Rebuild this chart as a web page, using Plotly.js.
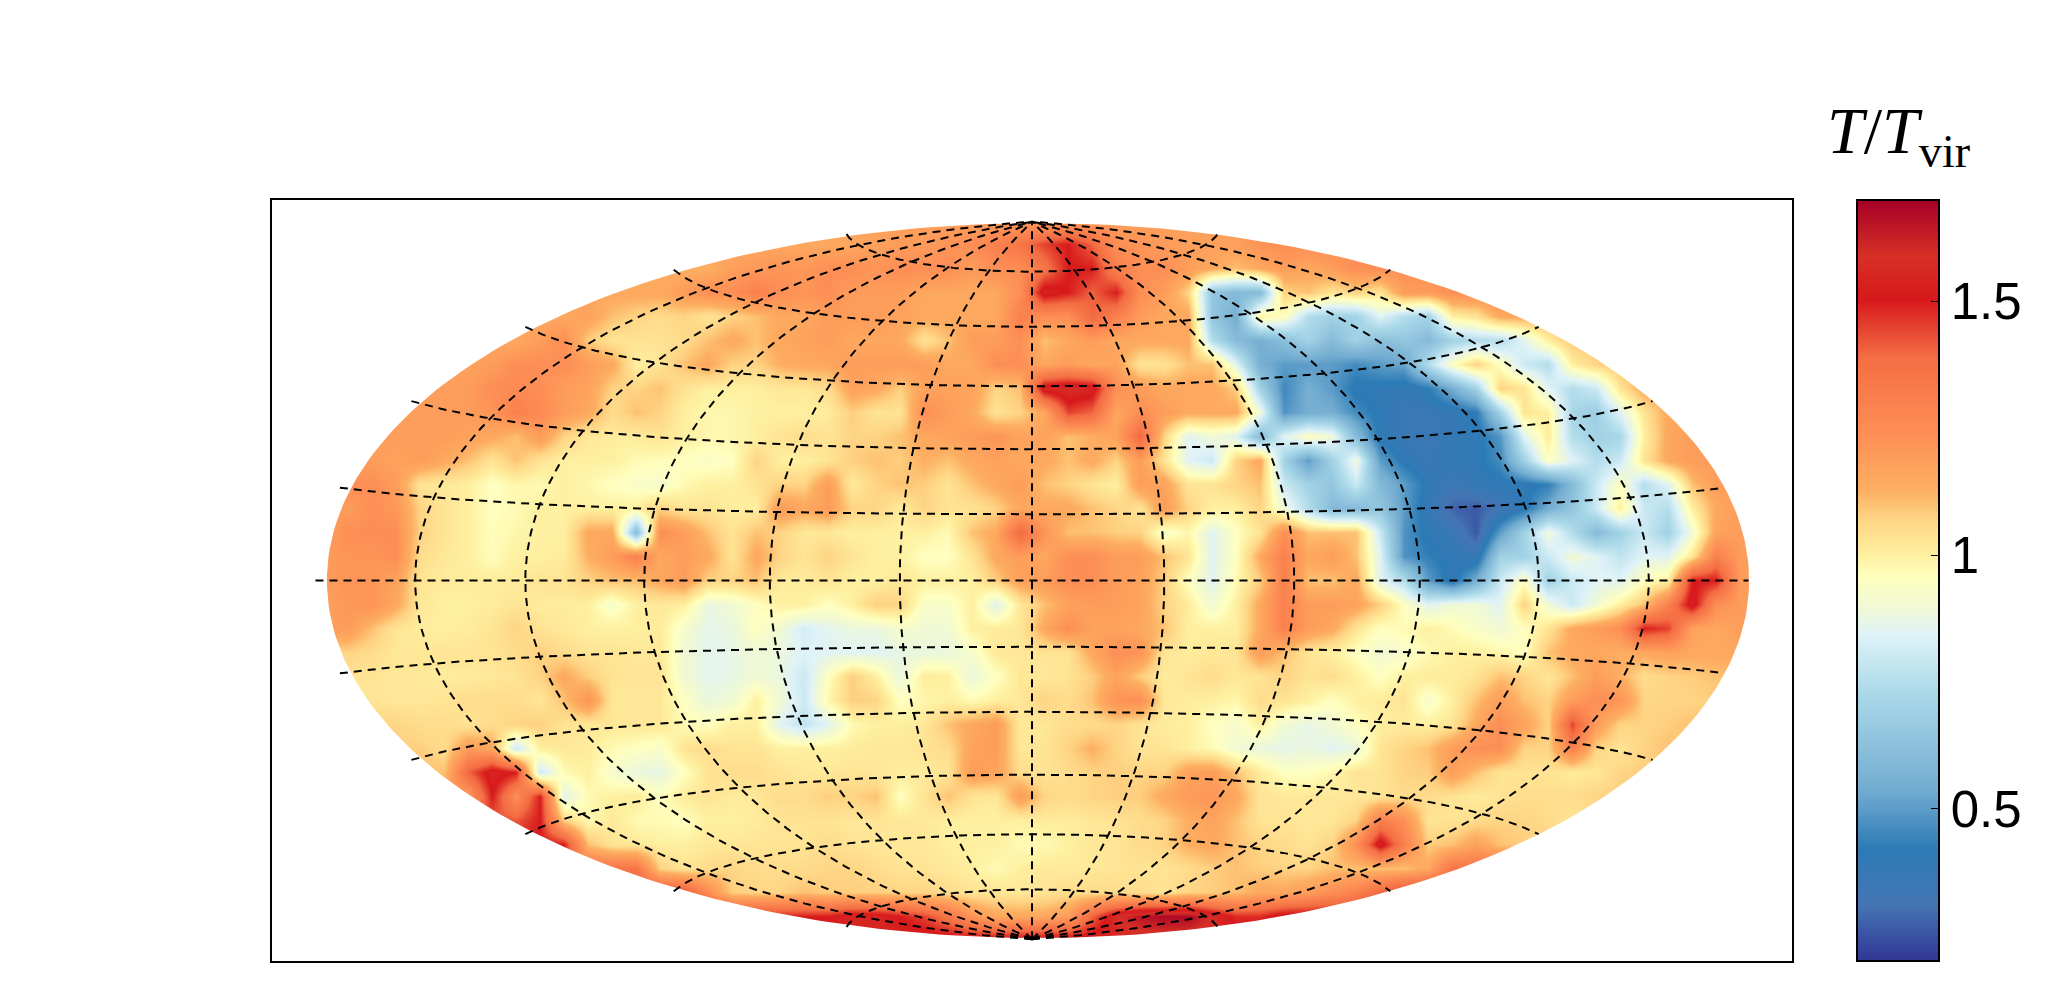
<!DOCTYPE html>
<html><head><meta charset="utf-8">
<script src="https://cdn.plot.ly/plotly-3.0.1.min.js"></script>
<style>html,body{margin:0;padding:0;background:#fff}</style></head>
<body><div id="chart" style="width:2046px;height:996px"></div>
<script>
// T/Tvir x 100, top row first; rowStart = first column inside the map
const rowStart=[29,20,15,13,10,8,6,5,4,3,2,2,1,0,0,0,0,0,1,2,2,3,4,5,6,8,10,13,15,20,29];
const tempRows=[
[118],
[115,115,115,117,119,119,122,124,130,135,145,150,140,124,122,119,118,118,118,122,124],
[113,113,118,120,122,121,124,124,122,124,124,124,119,124,124,135,150,150,130,124,124,119,115,110,115,119,115,119,124,124],
[115,115,119,124,124,130,124,122,124,119,119,119,115,115,115,115,124,155,150,140,150,124,119,107,65,60,60,107,110,103,107,103,119,119,124],
[115,117,110,107,105,107,103,107,110,115,115,119,119,119,117,115,115,115,115,130,124,124,140,130,119,115,115,65,55,100,95,75,70,70,85,75,70,100,103,115],
[115,119,124,108,103,103,103,105,110,115,110,115,117,119,115,115,115,103,110,119,119,124,110,115,119,115,115,115,115,75,60,55,62,70,60,70,62,65,60,70,75,75,85,100,110],
[117,119,124,124,124,119,115,100,103,110,115,107,107,113,115,115,119,119,119,119,115,115,124,124,115,119,115,117,103,103,110,110,85,55,50,50,50,46,50,52,75,95,107,95,80,75,100,107,110],
[119,119,124,126,124,119,117,107,107,110,103,100,100,100,102,102,105,117,115,108,117,117,117,107,110,155,158,155,124,119,115,115,115,108,70,45,55,50,40,40,38,42,55,70,107,103,85,75,80,103,115],
[119,119,119,122,130,126,119,115,105,110,107,100,98,98,100,100,100,101,108,103,103,124,119,115,103,107,115,145,140,115,124,119,115,115,115,90,48,55,55,46,40,36,36,38,42,70,103,100,72,68,85,103,115],
[119,119,119,117,115,110,119,107,102,101,101,103,100,98,98,100,103,105,103,107,107,110,115,117,119,122,117,117,110,113,117,140,107,85,90,85,60,85,95,90,60,40,36,36,38,40,48,85,101,75,70,72,100,115,119],
[119,117,119,115,110,103,110,103,100,100,100,97,96,95,93,95,107,100,100,103,108,110,108,113,110,115,117,115,115,110,115,107,119,103,85,80,107,115,70,50,70,90,50,40,36,40,40,46,70,95,85,75,80,103,115,119],
[124,119,103,102,100,95,98,97,100,98,95,93,92,97,100,100,103,107,107,119,101,107,110,108,103,110,115,119,110,107,103,100,119,117,103,103,107,110,80,70,65,80,60,50,40,34,38,40,40,43,60,80,95,75,85,110,119],
[119,124,121,107,103,100,95,97,100,100,100,100,100,107,103,103,101,100,119,115,119,107,107,101,107,103,103,107,115,115,115,110,107,103,119,107,100,100,107,90,75,60,60,65,50,38,28,26,33,40,55,65,80,100,80,75,100,115,119],
[117,124,124,124,107,103,100,96,98,100,100,115,115,60,124,119,110,103,110,107,102,102,100,100,100,100,97,110,115,140,122,110,110,108,107,92,98,85,95,103,124,110,110,110,80,48,40,36,26,50,70,90,75,60,70,80,70,90,117,119],
[119,122,122,124,105,102,100,96,100,100,101,113,119,130,115,119,115,103,115,107,103,107,103,100,100,95,95,103,115,119,115,124,124,119,119,110,103,85,95,115,130,115,119,110,85,48,43,40,36,70,70,80,90,85,78,85,85,103,130,119],
[119,122,121,117,103,101,101,101,101,103,103,107,110,110,115,119,107,107,110,101,101,103,100,100,102,100,100,100,108,117,119,124,124,119,117,108,95,85,97,108,130,110,110,115,85,75,50,38,55,80,95,70,80,85,85,95,100,150,150,119,119],
[117,121,122,115,102,100,100,101,103,101,101,100,92,100,102,100,88,90,95,100,100,95,100,108,107,93,93,100,85,102,110,117,119,119,117,107,101,90,100,115,130,119,119,117,108,95,85,90,90,85,107,90,80,90,100,110,130,155,124,119],
[119,119,110,103,101,100,101,103,107,103,102,100,100,100,101,92,86,88,95,90,82,86,88,88,92,90,90,100,101,102,115,124,117,117,115,110,100,100,100,115,130,119,115,103,95,97,100,97,93,90,95,103,115,119,124,150,145,117,115,119],
[107,105,102,102,103,103,103,105,108,105,103,103,102,102,90,86,87,90,88,84,85,85,85,87,88,88,92,102,102,103,103,115,124,122,103,101,102,103,119,110,103,100,95,90,92,97,100,100,98,95,110,115,115,113,115,117,115,115,115],
[103,102,102,101,101,102,103,107,115,108,103,103,103,90,86,87,90,88,80,95,108,100,88,101,100,88,95,102,102,103,108,117,108,101,103,105,102,103,107,103,105,100,95,100,101,101,103,110,107,102,110,119,113,105,107,108,110],
[103,102,102,103,105,105,105,102,110,122,102,102,102,95,88,90,100,90,80,98,108,107,95,98,100,97,100,102,107,105,110,122,124,102,101,100,98,105,103,100,95,100,101,103,92,100,110,119,110,107,119,124,122,107,107,107,108],
[107,105,105,103,105,107,108,103,102,102,102,102,97,95,100,100,85,78,85,97,100,100,102,110,115,119,102,102,105,105,107,103,101,100,95,92,100,90,87,90,95,100,101,100,103,115,124,117,107,145,119,107,107,108,110],
[108,105,119,115,80,100,102,101,97,95,93,103,105,103,103,100,100,100,101,102,102,103,105,117,119,102,103,107,113,107,103,103,100,97,90,88,86,88,85,88,103,107,110,119,124,124,107,107,130,107,103,107,110],
[110,140,155,150,80,97,100,92,88,87,95,103,105,105,103,102,102,103,102,101,101,103,119,117,105,103,105,107,108,107,107,117,119,110,101,95,95,98,103,103,107,108,119,110,103,103,103,101,102,107,108],
[119,150,124,150,85,97,100,101,95,101,103,101,102,105,105,108,107,110,95,103,110,103,102,119,107,105,107,108,108,115,119,121,115,103,102,102,102,102,103,105,105,103,101,103,105,105,105,107,108],
[142,150,107,97,102,97,97,95,100,100,101,103,103,103,102,103,102,102,100,100,100,100,101,101,102,103,105,107,113,117,110,103,103,102,102,107,130,124,103,103,105,107,107,105,103],
[150,110,103,102,100,100,102,102,103,103,103,105,103,102,102,102,100,100,100,97,97,100,102,103,105,107,113,115,110,107,105,103,107,124,155,130,108,110,117,110,108],
[135,107,103,105,107,105,105,105,107,107,105,103,103,102,100,97,100,102,101,102,103,103,103,105,108,110,108,107,107,110,110,110,110,115,135],
[145,125,108,107,107,110,108,108,108,107,107,105,103,103,102,103,105,105,105,105,103,107,108,110,115,115,119,124,130,140,150],
[150,150,155,155,150,145,135,122,115,115,115,119,140,158,165,168,168,158,148,148,155],
[155]
];
const tickVals=[0.5,1,1.5];
const latLines=[-75,-60,-45,-30,-15,0,15,30,45,60,75];
const lonLines=[-150,-120,-90,-60,-30,0,30,60,90,120,150];
const colorStops=[[0.2,'#313695'],[0.31,'#4575b4'],[0.42,'#2c7bb6'],[0.54,'#74add1'],[0.73,'#abd9e9'],[0.845,'#e0f3f8'],[0.89,'#eef8d8'],[0.955,'#ffffbf'],[1,'#fef0a0'],[1.07,'#fed585'],[1.13,'#fdae61'],[1.245,'#fd8d55'],[1.39,'#f46d43'],[1.503,'#d7191c'],[1.59,'#d73027'],[1.7,'#a50026']];

const zMin=0.2, zMax=1.7, nCols=61;
const z=tempRows.map((r,j)=>{
  const out=[];
  for(let i=0;i<nCols;i++){
    const k=Math.min(Math.max(i-rowStart[j],0),r.length-1);
    out.push(r[k]/100);
  }
  return out;
}).reverse();

const rad=Math.PI/180;
function hammer(lat,lon){
  const p=lat*rad,l=lon*rad,d=Math.sqrt(1+Math.cos(p)*Math.cos(l/2));
  return [2*Math.SQRT2*Math.cos(p)*Math.sin(l/2)/d, Math.SQRT2*Math.sin(p)/d];
}
const gx=[],gy=[];
latLines.forEach(lat=>{for(let lon=-180;lon<=180;lon+=2){const q=hammer(lat,lon);gx.push(q[0]);gy.push(q[1]);}gx.push(null);gy.push(null);});
lonLines.forEach(lon=>{for(let lat=-90;lat<=90;lat+=1){const q=hammer(lat,lon);gx.push(q[0]);gy.push(q[1]);}gx.push(null);gy.push(null);});

// white surround: map disc is slightly offset from the graticule
const ex=0.0237,ea=2.807,eb=1.409;
const mx=[-3,3,3,-3,-3],my=[-1.5,-1.5,1.5,1.5,-1.5];
for(let a=180;a>=-180;a-=1){mx.push(ex+ea*Math.cos(a*rad));my.push(eb*Math.sin(a*rad));}
mx.push(-3);my.push(-1.5);

const traces=[
 {type:'heatmap',z:z,x0:-2.795,dx:0.09475,y0:-1.418,dy:0.09461,zmin:zMin,zmax:zMax,zsmooth:'best',
  colorscale:colorStops.map(s=>[(s[0]-zMin)/(zMax-zMin),s[1]]),
  colorbar:{xref:'container',x:1857/2046,xanchor:'left',yref:'paper',y:0,yanchor:'bottom',len:1,lenmode:'fraction',
    thickness:82,thicknessmode:'pixels',xpad:0,ypad:0,outlinecolor:'#000',outlinewidth:2,
    tickmode:'array',tickvals:tickVals,ticktext:tickVals.map(String),ticks:'inside',ticklen:9,tickwidth:1.2,tickcolor:'#000',
    tickfont:{family:'Liberation Sans',size:51,color:'#000'}}},
 {type:'scatter',mode:'lines',x:mx,y:my,fill:'toself',fillcolor:'#fff',line:{width:0,color:'#fff'},hoverinfo:'skip',showlegend:false},
 {type:'scatter',mode:'lines',x:gx,y:gy,line:{color:'#000',width:2,dash:'8px,6px'},cliponaxis:false,hoverinfo:'skip',showlegend:false,connectgaps:false}
];
const leftTicks=tickVals.map(v=>({type:'line',xref:'paper',yref:'paper',x0:(1857-272)/1520,x1:(1866-272)/1520,y0:(v-zMin)/(zMax-zMin),y1:(v-zMin)/(zMax-zMin),line:{color:'#000',width:1.2}}));
const layout={
 width:2046,height:996,margin:{l:272,r:254,t:200,b:35,pad:0},paper_bgcolor:'#fff',plot_bgcolor:'#fff',showlegend:false,
 xaxis:{range:[-3,3],showgrid:false,zeroline:false,showticklabels:false,ticks:'',showline:true,mirror:true,linecolor:'#000',linewidth:2},
 yaxis:{range:[-1.5,1.5],showgrid:false,zeroline:false,showticklabels:false,ticks:'',showline:true,mirror:true,linecolor:'#000',linewidth:2},
 shapes:leftTicks,
 annotations:[{xref:'paper',yref:'paper',x:(1898-272)/1520,y:1+(200-135)/761,xanchor:'center',yanchor:'middle',showarrow:false,
   text:'<i>T</i>/<i>T</i><sub>vir</sub>',font:{family:'Liberation Serif',size:66,color:'#000'}}]
};
Plotly.newPlot('chart',traces,layout,{displayModeBar:false,staticPlot:true});
</script></body></html>
